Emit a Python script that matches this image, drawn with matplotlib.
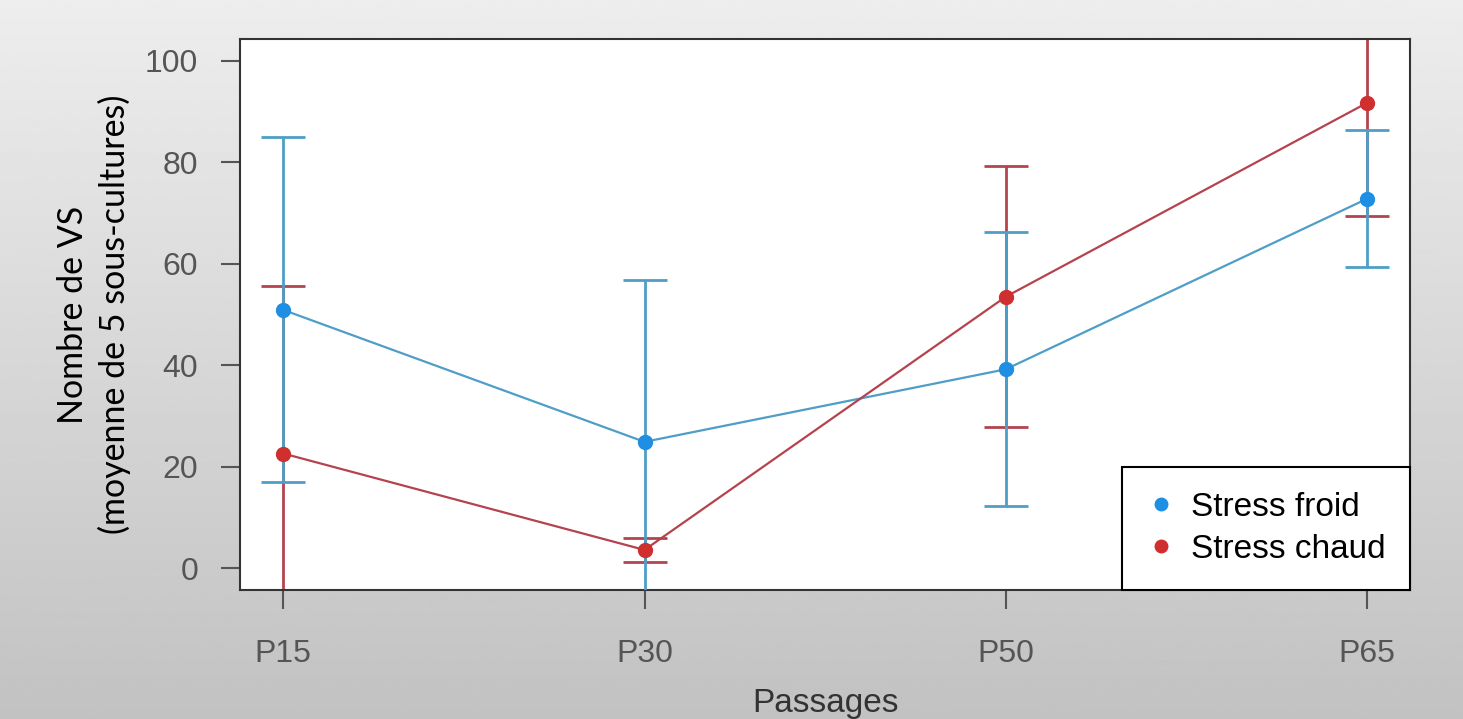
import numpy as np
import matplotlib
matplotlib.use('Agg')
import matplotlib.pyplot as plt
from matplotlib.lines import Line2D

# Donnees
passages = ['P15', 'P30', 'P50', 'P65']
froid_moy = [50.9, 24.9, 39.2, 72.8]
froid_err = [34.0, 31.9, 27.0, 13.5]
chaud_moy = [22.6, 3.6, 53.5, 91.7]
chaud_err = [33.0, 2.3, 25.7, 22.3]

col_froid_pt = '#1E8FE3'
col_froid_ln = '#4E9EC8'
col_chaud_pt = '#D02F2F'
col_chaud_ln = '#B5434E'
gris = '#555555'

plt.rcParams.update({
    'font.family': ['Liberation Sans', 'DejaVu Sans'],
    'font.size': 23,
})

fig = plt.figure(figsize=(14.63, 7.19), dpi=100)

# Fond gris (degrade simple)
bg = fig.add_axes([0, 0, 1, 1], zorder=-10)
grad = np.linspace(0.93, 0.76, 256).reshape(-1, 1)
bg.imshow(grad, cmap='gray', vmin=0, vmax=1, aspect='auto',
          extent=[0, 1, 0, 1], origin='upper')
bg.axis('off')

ax = fig.add_axes([0.164, 0.1794, 0.8, 0.7664])
ax.set_facecolor('white')
x = np.arange(1, len(passages) + 1)

# Barres d'erreur (rouge d'abord, bleu par-dessus)
ax.errorbar(x, chaud_moy, yerr=chaud_err, fmt='none', ecolor=col_chaud_ln,
            elinewidth=2, capsize=16, capthick=2, zorder=2)
ax.errorbar(x, froid_moy, yerr=froid_err, fmt='none', ecolor=col_froid_ln,
            elinewidth=2, capsize=16, capthick=2, zorder=3)

# Lignes et points
ax.plot(x, froid_moy, color=col_froid_ln, linewidth=1.6, zorder=4)
ax.plot(x, chaud_moy, color=col_chaud_ln, linewidth=1.6, zorder=4)
ax.plot(x, froid_moy, 'o', color=col_froid_pt, markersize=10, zorder=5)
ax.plot(x, chaud_moy, 'o', color=col_chaud_pt, markersize=10, zorder=5)

ax.set_xlim(0.88, 4.12)
ax.set_ylim(-4.3, 104.3)
ax.set_xticks(x)
ax.set_xticklabels(passages)
ax.set_yticks([0, 20, 40, 60, 80, 100])
ax.tick_params(axis='both', length=14, width=1.5, color=gris,
               labelcolor=gris, labelsize=23)
ax.tick_params(axis='y', pad=16)
ax.tick_params(axis='x', pad=21)
for sp in ax.spines.values():
    sp.set_color('#333333')
    sp.set_linewidth(1.5)

ax.set_xlabel('Passages', color='#333333', fontsize=24, labelpad=14)
ax.set_ylabel('Nombre de VS\n(moyenne de 5 sous-cultures)',
              family=['Lato', 'DejaVu Sans'], fontsize=24.5, color='black',
              labelpad=10, linespacing=1.35)

handles = [
    Line2D([], [], marker='o', linestyle='none', color=col_froid_pt,
           markersize=9, label='Stress froid'),
    Line2D([], [], marker='o', linestyle='none', color=col_chaud_pt,
           markersize=9, label='Stress chaud'),
]
leg = ax.legend(handles=handles, loc='lower right', borderaxespad=0,
                fancybox=False, framealpha=1, edgecolor='black',
                fontsize=24, borderpad=0.75, labelspacing=0.33,
                handlelength=0.8, handletextpad=0.5)
leg.get_frame().set_linewidth(1.5)

plt.savefig('out.png', dpi=100)
plt.close()
